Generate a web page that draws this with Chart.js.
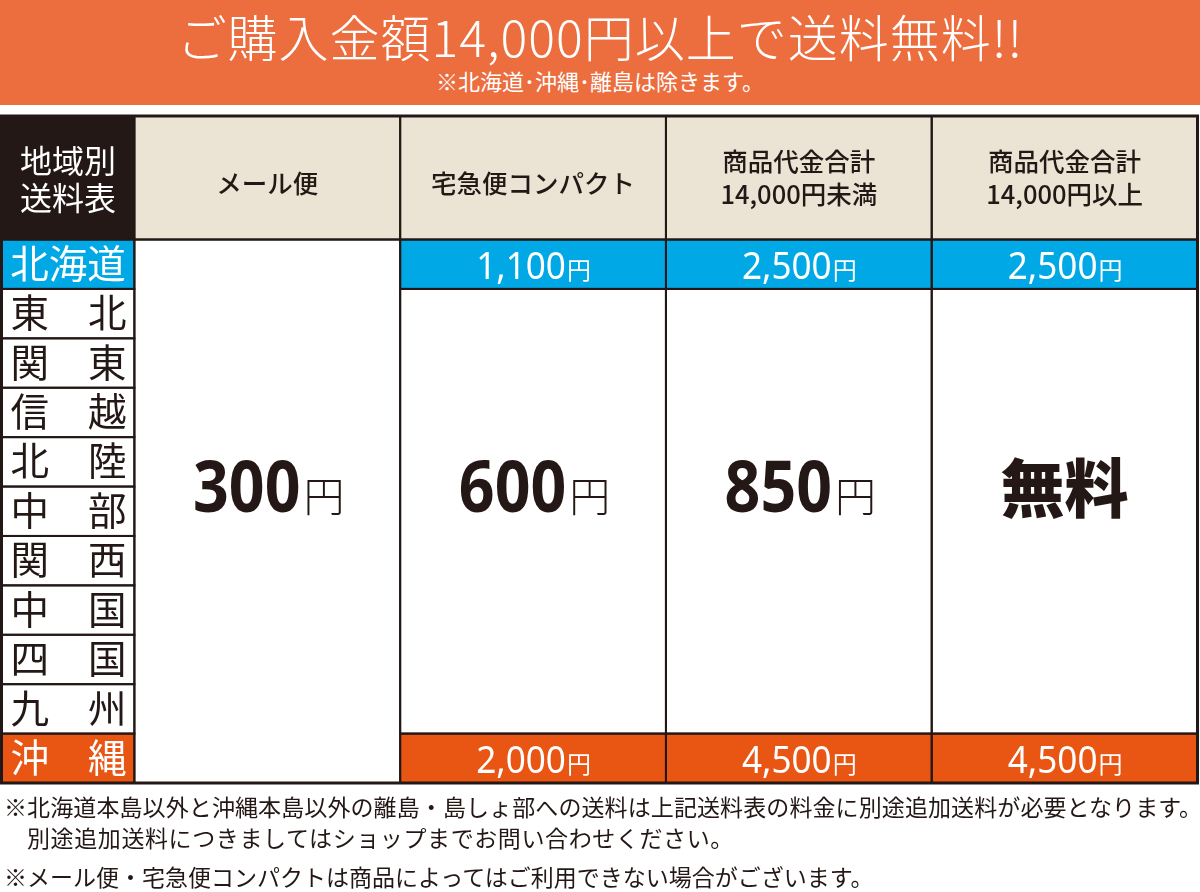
<!DOCTYPE html>
<html lang="ja"><head><meta charset="utf-8">
<script src="https://cdn.jsdelivr.net/npm/chart.js@4.4.1/dist/chart.umd.min.js"></script>
<style>
html,body{margin:0;padding:0;background:#fff;width:1200px;height:892px;overflow:hidden;font-family:"Noto Sans CJK JP","Noto Sans",sans-serif;}
#wrap{position:relative;width:1200px;height:892px;}
#chart{position:absolute;left:0;top:0;}
#banner{position:absolute;left:0;top:0;width:1200px;height:105px;background:#EC6D3D;color:#fff;text-align:center;}
#banner .t{position:absolute;left:0;right:0;top:4px;font-size:50px;font-weight:300;line-height:62px;letter-spacing:1px;white-space:nowrap;}
#banner .s{position:absolute;left:0;right:0;top:66px;font-size:22px;line-height:28px;font-weight:400;white-space:nowrap;}
.note{position:absolute;left:4px;font-size:23px;line-height:28px;color:#231815;white-space:nowrap;}
</style>
</head><body>
<div id="wrap">
<canvas id="chart" width="1200" height="892"></canvas>
<div id="banner"><div class="t">ご購入金額14,000円以上で送料無料!!</div><div class="s">※北海道･沖縄･離島は除きます。</div></div>
<div class="note" style="top:792px;letter-spacing:0.1px">※北海道本島以外と沖縄本島以外の離島・島しょ部への送料は上記送料表の料金に別途追加送料が必要となります。</div>
<div class="note" style="top:823px;left:27px;letter-spacing:0.6px">別途追加送料につきましてはショップまでお問い合わせください。</div>
<div class="note" style="top:862px">※メール便・宅急便コンパクトは商品によってはご利用できない場合がございます。</div>
</div>
<script>
// ---- data ----
const cornerHeader = ['地域別', '送料表'];
const columnHeaders = [['メール便'], ['宅急便コンパクト'], ['商品代金合計', '14,000円未満'], ['商品代金合計', '14,000円以上']];
const regions = ['北海道', '東北', '関東', '信越', '北陸', '中部', '関西', '中国', '四国', '九州', '沖縄'];
const mailFees     = [300, 300, 300, 300, 300, 300, 300, 300, 300, 300, 300];
const compactFees  = [1100, 600, 600, 600, 600, 600, 600, 600, 600, 600, 2000];
const under14kFees = [2500, 850, 850, 850, 850, 850, 850, 850, 850, 850, 4500];
const over14kFees  = [2500, 0, 0, 0, 0, 0, 0, 0, 0, 0, 4500];   // 0 = 無料
const feeColumns = [mailFees, compactFees, under14kFees, over14kFees];

// ---- style / layout ----
const DARK = '#231815', BEIGE = '#EBE3D3';
const regionFill = { '北海道': '#00A8E6', '沖縄': '#E95513' };
const REGION_COL = 0.5, HEADER_ROWS = 2.5;
const colEdges = [0, REGION_COL];
columnHeaders.forEach((_, i) => colEdges.push(REGION_COL + i + 1));
const rowEdges = [0, HEADER_ROWS];
regions.forEach((_, i) => rowEdges.push(HEADER_ROWS + i + 1));

// merge consecutive equal fees in each column
const groups = [];
feeColumns.forEach((col, c) => {
  let start = 0;
  for (let r = 1; r <= col.length; r++) {
    if (r === col.length || col[r] !== col[start]) {
      groups.push({ c, r0: start, r1: r - 1, v: col[start] });
      start = r;
    }
  }
});
function groupFill(g) {
  if (g.r0 === g.r1 && regionFill[regions[g.r0]]) return regionFill[regions[g.r0]];
  return '#ffffff';
}

function drawFee(ctx, v, cx, by, big, color) {
  ctx.fillStyle = color;
  ctx.textBaseline = 'alphabetic';
  if (v === 0) {
    ctx.font = '900 64px "Noto Sans CJK JP"';
    ctx.textAlign = 'center';
    ctx.fillText('無料', cx, by);
    return;
  }
  const num = v.toLocaleString('en-US');
  const numFont = big ? '700 72px "Noto Sans"' : '400 39px "Noto Sans"';
  const yenFont = big ? '300 41px "Noto Sans CJK JP"' : '400 24px "Noto Sans CJK JP"';
  const sq = big ? 0.87 : 0.9;
  ctx.font = numFont; const wn = ctx.measureText(num).width * sq;
  ctx.font = yenFont; const wy = ctx.measureText('円').width;
  const x0 = cx - (wn + wy) / 2;
  ctx.save();
  ctx.translate(x0, by); ctx.scale(sq, 1);
  ctx.font = numFont; ctx.textAlign = 'left';
  ctx.fillText(num, 0, 0);
  ctx.restore();
  ctx.font = yenFont; ctx.textAlign = 'left';
  ctx.fillText('円', x0 + wn + (big ? 3 : 1), by);
}

const tablePlugin = {
  id: 'feeTable',
  afterDatasetsDraw(chart) {
    const ctx = chart.ctx, xs = chart.scales.x, ys = chart.scales.y;
    const X = v => xs.getPixelForValue(v), Y = v => ys.getPixelForValue(v);
    const rect = (x0, x1, y0, y1, fill) => { ctx.fillStyle = fill; ctx.fillRect(X(x0), Y(y0), X(x1) - X(x0), Y(y1) - Y(y0)); };
    const box = (x0, x1, y0, y1, lw) => { ctx.lineWidth = lw; ctx.strokeStyle = DARK; ctx.strokeRect(X(x0), Y(y0), X(x1) - X(x0), Y(y1) - Y(y0)); };
    ctx.save();
    // corner
    rect(colEdges[0], colEdges[1], rowEdges[0], rowEdges[1], DARK);
    ctx.fillStyle = '#fff'; ctx.font = '400 32px "Noto Sans CJK JP"'; ctx.textAlign = 'center'; ctx.textBaseline = 'middle';
    const ccx = (X(colEdges[0]) + X(colEdges[1])) / 2, ccy = (Y(rowEdges[0]) + Y(rowEdges[1])) / 2;
    cornerHeader.forEach((t, i) => ctx.fillText(t, ccx, ccy - 17 + i * 37));
    // column headers
    columnHeaders.forEach((lines, i) => {
      rect(colEdges[i + 1], colEdges[i + 2], rowEdges[0], rowEdges[1], BEIGE);
      ctx.fillStyle = DARK; ctx.font = '500 25.5px "Noto Sans CJK JP"'; ctx.textAlign = 'center'; ctx.textBaseline = 'middle';
      const cx = (X(colEdges[i + 1]) + X(colEdges[i + 2])) / 2, cy = (Y(rowEdges[0]) + Y(rowEdges[1])) / 2;
      if (lines.length === 1) ctx.fillText(lines[0], cx, cy + 6);
      else lines.forEach((t, k) => ctx.fillText(t, cx, cy - 16 + k * 33));
    });
    // region cells
    regions.forEach((name, r) => {
      const fill = regionFill[name] || '#ffffff';
      rect(colEdges[0], colEdges[1], rowEdges[r + 1], rowEdges[r + 2], fill);
      const color = regionFill[name] ? '#ffffff' : DARK;
      ctx.fillStyle = color; ctx.font = '400 38.5px "Noto Sans CJK JP"'; ctx.textBaseline = 'middle';
      const l = X(colEdges[0]), rr = X(colEdges[1]);
      const cy = (Y(rowEdges[r + 1]) + Y(rowEdges[r + 2])) / 2 - 1;
      if (name.length === 2) {
        ctx.textAlign = 'left'; ctx.fillText(name[0], l + 9, cy);
        ctx.textAlign = 'right'; ctx.fillText(name[1], rr - 8, cy);
      } else {
        ctx.textAlign = 'center'; ctx.fillText(name, (l + rr) / 2, cy);
      }
    });
    // fee groups
    groups.forEach(g => {
      const fill = groupFill(g);
      const x0 = colEdges[g.c + 1], x1 = colEdges[g.c + 2], y0 = rowEdges[g.r0 + 1], y1 = rowEdges[g.r1 + 2];
      rect(x0, x1, y0, y1, fill);
      const cx = (X(x0) + X(x1)) / 2, cy = (Y(y0) + Y(y1)) / 2;
      const big = g.r1 > g.r0;
      if (big) drawFee(ctx, g.v, cx, cy + 1, true, DARK);
      else drawFee(ctx, g.v, cx, cy + 15, false, '#ffffff');
    });
    // borders
    box(colEdges[0], colEdges[1], rowEdges[0], rowEdges[1], 2);
    columnHeaders.forEach((_, i) => box(colEdges[i + 1], colEdges[i + 2], rowEdges[0], rowEdges[1], 2));
    regions.forEach((_, r) => box(colEdges[0], colEdges[1], rowEdges[r + 1], rowEdges[r + 2], 2));
    groups.forEach(g => box(colEdges[g.c + 1], colEdges[g.c + 2], rowEdges[g.r0 + 1], rowEdges[g.r1 + 2], 2));
    box(colEdges[0], colEdges[colEdges.length - 1], rowEdges[0], rowEdges[rowEdges.length - 1], 3);
    ctx.restore();
  }
};

const points = groups.map(g => ({
  x: (colEdges[g.c + 1] + colEdges[g.c + 2]) / 2,
  y: (rowEdges[g.r0 + 1] + rowEdges[g.r1 + 2]) / 2,
  v: g.v
}));

new Chart(document.getElementById('chart'), {
  type: 'scatter',
  data: { datasets: [{ label: '送料', data: points, pointRadius: 0, pointHoverRadius: 0 }] },
  options: {
    responsive: false, animation: false, devicePixelRatio: 1,
    layout: { padding: { top: 116, bottom: 892 - 783, left: 1.5, right: 2.5 } },
    plugins: { legend: { display: false }, tooltip: { enabled: false } },
    scales: {
      x: { type: 'linear', min: colEdges[0], max: colEdges[colEdges.length - 1], display: false },
      y: { type: 'linear', min: rowEdges[0], max: rowEdges[rowEdges.length - 1], reverse: true, display: false }
    }
  },
  plugins: [tablePlugin]
});
</script>
</body></html>
